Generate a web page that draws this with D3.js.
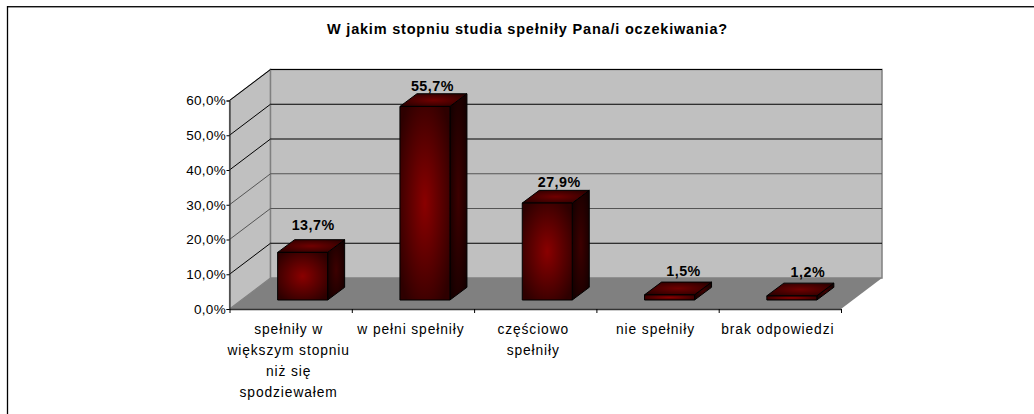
<!DOCTYPE html>
<html><head><meta charset="utf-8">
<script src="https://cdn.jsdelivr.net/npm/d3@7"></script>
<style>html,body{margin:0;background:#fff}svg{display:block}text{font-family:"Liberation Sans",Arial,sans-serif;fill:#000}</style>
</head><body><svg id="c" width="1034" height="414"></svg>
<script>
const categories=[["spełniły w","większym stopniu","niż się","spodziewałem"],["w pełni spełniły"],["częściowo","spełniły"],["nie spełniły"],["brak odpowiedzi"]];
const values=[13.7,55.7,27.9,1.5,1.2];
const valueLabels=["13,7%","55,7%","27,9%","1,5%","1,2%"];
const tickValues=[0,10,20,30,40,50,60];
const tickLabels=["0,0%","10,0%","20,0%","30,0%","40,0%","50,0%","60,0%"];
const title="W jakim stopniu studia spełniły Pana/i oczekiwania?";

const svg=d3.select("#c");
const x=d3.scaleBand().domain(d3.range(categories.length)).range([229.5,841]);
const y=d3.scaleLinear().domain([0,60]).range([309,100.5]);
const DX=41,DY=-31,bx=12,by=-9,bw=50,bdx=17,bdy=-12.7;
const pts=a=>a.map(p=>p.join(",")).join(" ");

const defs=svg.append("defs");
function grad(id,c1,c2){const g=defs.append("radialGradient").attr("id",id).attr("cx","50%").attr("cy","50%").attr("r","62%");
 g.append("stop").attr("offset","0%").attr("stop-color",c1);g.append("stop").attr("offset","100%").attr("stop-color",c2);}
grad("front","#8a0000","#2e0000");grad("side","#3d0000","#140000");grad("top","#700000","#2a0000");

svg.append("line").attr("x1",7).attr("x2",1034).attr("y1",6.5).attr("y2",6.5).attr("stroke","#111");
svg.append("line").attr("x1",7).attr("x2",1034).attr("y1",7.5).attr("y2",7.5).attr("stroke","#999");
svg.append("line").attr("x1",7.5).attr("x2",7.5).attr("y1",6).attr("y2",414).attr("stroke","#000").attr("stroke-width",1.3);
svg.append("text").attr("x",527.5).attr("y",34).attr("text-anchor","middle").attr("font-size",14.5).attr("letter-spacing",0.8).attr("font-weight","bold").text(title);

const x0=x.range()[0],x1=x.range()[1],y0=y(0),yT=y(60);
svg.append("polygon").attr("points",pts([[x0,y0],[x0+DX,y0+DY],[x0+DX,yT+DY],[x0,yT]])).attr("fill","#c0c0c0").attr("stroke","#808080").attr("stroke-width",1.2);
svg.append("polygon").attr("points",pts([[x0+DX,y0+DY],[x1+DX,y0+DY],[x1+DX,yT+DY],[x0+DX,yT+DY]])).attr("fill","#c0c0c0").attr("stroke","#808080").attr("stroke-width",1.5);
svg.append("polygon").attr("points",pts([[x0,y0],[x1,y0],[x1+DX,y0+DY],[x0+DX,y0+DY]])).attr("fill","#808080");

tickValues.slice(1).forEach(v=>{
 svg.append("polyline").attr("points",pts([[x0,y(v)],[x0+DX,y(v)+DY],[x1+DX,y(v)+DY]])).attr("fill","none").attr("stroke",(v===20||v===30)?"#555":"#000").attr("stroke-width",1);
});
const axY=d3.axisLeft(y).tickValues(tickValues).tickFormat((d,i)=>tickLabels[i]).tickSize(3).tickPadding(0.5);
const gy=svg.append("g").attr("transform",`translate(${x0},0)`).call(axY);
gy.select(".domain").attr("stroke","#333").attr("stroke-width",1.2);
gy.selectAll("text").attr("font-size",13.5).attr("letter-spacing",0.3).attr("font-family",'"Liberation Sans",Arial,sans-serif');
const xBounds=d3.scaleLinear().domain([0,5]).range([x0,x1]);
const axX=d3.axisBottom(xBounds).tickValues(d3.range(6)).tickFormat("").tickSize(4).tickSizeOuter(0);
const gx=svg.append("g").attr("transform",`translate(0,${y0})`).call(axX);
gx.select(".domain").attr("stroke","#333").attr("stroke-width",1.5);

values.forEach((v,i)=>{
 const c=x(i)+x.bandwidth()/2+bx, L=c-bw/2, R=c+bw/2, B=y0+by, T=y(v)+by;
 const g=svg.append("g").attr("stroke","#000").attr("stroke-width",1);
 g.append("polygon").attr("points",pts([[R,B],[R+bdx,B+bdy],[R+bdx,T+bdy],[R,T]])).attr("fill","url(#side)");
 g.append("polygon").attr("points",pts([[L,T],[R,T],[R+bdx,T+bdy],[L+bdx,T+bdy]])).attr("fill","url(#top)");
 g.append("polygon").attr("points",pts([[L,B],[R,B],[R,T],[L,T]])).attr("fill","url(#front)");
 const lift=v<5?3.5:(v<20?6.5:0);
 const shift=i===0?10.5:(i===1?7.5:8+i*2);
 svg.append("text").attr("x",c+shift).attr("y",T+bdy-3-lift).attr("text-anchor","middle").attr("font-size",14.3).attr("letter-spacing",0.5).attr("font-weight","bold").text(valueLabels[i]);
 categories[i].forEach((s,j)=>{
  svg.append("text").attr("x",x(i)+x.bandwidth()/2-2).attr("y",y0+24.5+j*21).attr("text-anchor","middle").attr("font-size",13.8).attr("letter-spacing",0.9).text(s);
 });
});
</script></body></html>
